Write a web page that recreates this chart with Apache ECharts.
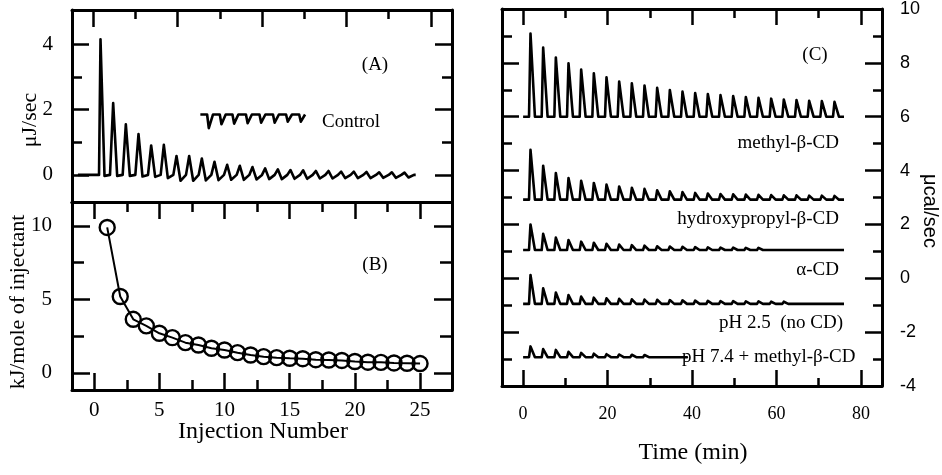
<!DOCTYPE html>
<html>
<head>
<meta charset="utf-8">
<script src="https://cdn.jsdelivr.net/npm/echarts@6/dist/echarts.min.js"></script>
<style>
  html, body { margin: 0; padding: 0; background: #fff; }
  #chart { width: 942px; height: 475px; }
</style>
</head>
<body>
<div id="chart"></div>
<script>
// injection schedule (min), shared by panels A and C
const injectionTimes = [1.4, 4.4, 7.4, 10.4, 13.4, 16.4, 19.4, 22.4, 25.4, 28.4, 31.4, 34.4, 37.4,
  40.4, 43.4, 46.4, 49.4, 52.4, 55.4, 58.4, 61.4, 64.4, 67.4, 70.4, 73.4]

// panel A: raw heat signal (uJ/sec)
const aPeaks = [4.15, 2.2, 1.55, 1.25, 0.9, 0.92, 0.58, 0.58, 0.5, 0.4, 0.31, 0.28, 0.24,
  0.2, 0.17, 0.15, 0.14, 0.12, 0.12, 0.1, 0.1, 0.09, 0.08, 0.08, 0.07]
const aDips = [-0.03, -0.03, -0.03, -0.05, -0.06, -0.1, -0.18, -0.18, -0.17, -0.16, -0.15, -0.15, -0.14,
  -0.13, -0.13, -0.12, -0.12, -0.11, -0.11, -0.1, -0.1, -0.1, -0.09, -0.09, -0.08]
const controlTimes = [27, 30, 33, 36.2, 39.4, 42.6, 45.7, 48.8]
const controlDips = [0.42, 0.3, 0.28, 0.27, 0.25, 0.25, 0.22, 0.22]
const controlBase = 1.85

// panel B: integrated heats (kJ/mole of injectant)
const injectionNumber = [1, 2, 3, 4, 5, 6, 7, 8, 9, 10, 11, 12, 13, 14, 15, 16, 17, 18, 19, 20, 21, 22, 23, 24, 25]
const heatPerInjection = [9.9, 5.2, 3.65, 3.2, 2.7, 2.4, 2.06, 1.9, 1.68, 1.56, 1.38, 1.22, 1.11,
  1.04, 1.0, 0.97, 0.9, 0.88, 0.85, 0.78, 0.73, 0.72, 0.68, 0.66, 0.64]

// panel C: offset thermograms (ucal/sec)
const traceNames = ['methyl-β-CD', 'hydroxypropyl-β-CD', 'α-CD', 'pH 2.5  (no CD)', 'pH 7.4 + methyl-β-CD']
const traceBaselines = [6.0, 2.92, 1.05, -0.95, -2.93]
const traceEnds = [76, 76, 76, 76, 37.6]
const methylPeaks = [3.09, 2.57, 2.2, 1.98, 1.75, 1.61, 1.46, 1.31, 1.24, 1.16, 1.07, 0.99, 0.93,
  0.88, 0.84, 0.8, 0.77, 0.73, 0.7, 0.67, 0.64, 0.62, 0.59, 0.58, 0.55]
const hydroxyPeaks = [1.85, 1.26, 0.99, 0.8, 0.7, 0.62, 0.56, 0.49, 0.44, 0.4, 0.35, 0.31, 0.28,
  0.25, 0.23, 0.21, 0.2, 0.19, 0.18, 0.17, 0.16, 0.16, 0.15, 0.15, 0.14]
const alphaPeaks = [0.95, 0.6, 0.46, 0.37, 0.31, 0.27, 0.23, 0.2, 0.18, 0.16, 0.14, 0.13, 0.12,
  0.11, 0.1, 0.09, 0.09, 0.08, 0.08, 0.07, 0.07, 0.06, 0.06, 0.05, 0.05]
const ph25Peaks = [1.07, 0.58, 0.42, 0.33, 0.27, 0.23, 0.21, 0.19, 0.17, 0.16, 0.15, 0.14, 0.13,
  0.12, 0.11, 0.1, 0.1, 0.09, 0.09, 0.08, 0.08, 0.07, 0.07, 0.06, 0.06]
const ph74Peaks = [0.4, 0.3, 0.27, 0.2, 0.16, 0.13, 0.11, 0.1, 0.09, 0.08, 0.07, 0.06, 0.06]
const cPeaks = [methylPeaks, hydroxyPeaks, alphaPeaks, ph25Peaks, ph74Peaks]

// tick positions
const timeMajor = [0, 20, 40, 60, 80]
const timeMinor = [10, 30, 50, 70]
const aMajor = [0, 2, 4]
const aMinor = [1, 3]
const injMajor = [0, 5, 10, 15, 20, 25]
const injMinor = [2.5, 7.5, 12.5, 17.5, 22.5]
const bMajor = [0, 5, 10]
const bMinor = [2.5, 7.5]
const cMajorTicks = [-2, 0, 2, 4, 6, 8]
const cMinorTicks = [-3, -1, 1, 3, 5, 7, 9]
const cLabels = [-4, -2, 0, 2, 4, 6, 8, 10]

const SERIF = '"Liberation Serif", "Times New Roman", serif'
const SANS = '"Liberation Sans", Arial, sans-serif'

// spike: quick rise, fast decay, optional undershoot
const buildTrace = (times, peaks, base, tStart, tEnd, dips) => {
  const pts = [[tStart, base]]
  peaks.forEach((h, i) => {
    const t = times[i]
    pts.push([t, base], [t + 0.35, base + h])
    if (dips) pts.push([t + 1.3, dips[i]], [t + 2.6, base])
    else pts.push([t + 1.4, base])
  })
  pts.push([tEnd, base])
  return pts
}

const buildControl = (times, dips, base, tStart, tEnd) => {
  const pts = [[tStart, base]]
  dips.forEach((d, i) => {
    pts.push([times[i], base], [times[i] + 0.4, base - d], [times[i] + 1.4, base])
  })
  pts.push([tEnd, base])
  return pts
}

const xAxes = []
const yAxes = []
const add = (list, a) => { list.push(a); return list.length - 1 }

const axis = (gridIndex, position, min, max, ticks, len, o = {}) => ({
  type: 'value', gridIndex, position, min, max,
  splitLine: { show: false },
  axisLine: { show: !!o.line, onZero: false, lineStyle: { color: '#000', width: 3 } },
  axisTick: { show: ticks.length > 0, inside: true, length: len, customValues: ticks,
    lineStyle: { color: '#000', width: 2.5 } },
  axisLabel: o.labels
    ? { show: true, customValues: o.labels, fontFamily: o.font || SERIF, fontSize: o.size || 21,
        color: '#000', margin: o.margin ?? 12 }
    : { show: false },
})

// grid 0: panel A
const aX = add(xAxes, axis(0, 'bottom', -5, 85, [], 0, { line: true }))
add(xAxes, axis(0, 'top', -5, 85, timeMajor, 17, { line: true }))
add(xAxes, axis(0, 'top', -5, 85, timeMinor, 9))
const aY = add(yAxes, axis(0, 'left', -0.83, 5.05, aMajor, 17, { line: true, labels: aMajor, margin: 19 }))
add(yAxes, axis(0, 'left', -0.83, 5.05, aMinor, 10))
add(yAxes, axis(0, 'right', -0.83, 5.05, aMajor, 17, { line: true }))
add(yAxes, axis(0, 'right', -0.83, 5.05, aMinor, 10))

// grid 1: panel B
const bX = add(xAxes, axis(1, 'bottom', -1.7, 27.45, injMajor, 17, { line: true, labels: injMajor, margin: 10 }))
add(xAxes, axis(1, 'bottom', -1.7, 27.45, injMinor, 10))
add(xAxes, axis(1, 'top', -1.7, 27.45, injMajor, 17, { line: true }))
add(xAxes, axis(1, 'top', -1.7, 27.45, injMinor, 10))
const bY = add(yAxes, axis(1, 'left', -1.16, 11.63, bMajor, 18, { line: true, labels: bMajor, margin: 20 }))
add(yAxes, axis(1, 'left', -1.16, 11.63, bMinor, 12))
add(yAxes, axis(1, 'right', -1.16, 11.63, bMajor, 18, { line: true }))
add(yAxes, axis(1, 'right', -1.16, 11.63, bMinor, 12))

// grid 2: panel C
const cX = add(xAxes, axis(2, 'bottom', -5, 85, timeMajor, 16, { line: true, labels: timeMajor, size: 18, margin: 19 }))
add(xAxes, axis(2, 'bottom', -5, 85, timeMinor, 8))
add(xAxes, axis(2, 'top', -5, 85, timeMajor, 16, { line: true }))
add(xAxes, axis(2, 'top', -5, 85, timeMinor, 9))
const cY = add(yAxes, axis(2, 'left', -4, 10, cMajorTicks, 17, { line: true }))
add(yAxes, axis(2, 'left', -4, 10, cMinorTicks, 10))
add(yAxes, axis(2, 'right', -4, 10, cMajorTicks, 17, { line: true, labels: cLabels, font: SANS, size: 18, margin: 18 }))
add(yAxes, axis(2, 'right', -4, 10, cMinorTicks, 9))

const trace = (data, xi, yi) => ({
  type: 'line', data, xAxisIndex: xi, yAxisIndex: yi,
  showSymbol: false, symbol: 'none',
  lineStyle: { color: '#000', width: 2.6, join: 'round' },
})

const series = [
  trace(buildTrace(injectionTimes, aPeaks, 0, -3.6, 76.4, aDips), aX, aY),
  trace(buildControl(controlTimes, controlDips, controlBase, 25.4, 50.2), aX, aY),
  {
    type: 'line', xAxisIndex: bX, yAxisIndex: bY,
    data: injectionNumber.map((n, i) => [n, heatPerInjection[i]]),
    symbol: 'circle', symbolSize: 15, showSymbol: true,
    itemStyle: { color: 'rgba(0,0,0,0)', borderColor: '#000', borderWidth: 2.4 },
    lineStyle: { color: '#000', width: 2 },
  },
  ...cPeaks.map((peaks, k) =>
    trace(buildTrace(injectionTimes, peaks, traceBaselines[k], 0, traceEnds[k]), cX, cY)),
]

const text = (str, x, y, o = {}) => ({
  type: 'text', x, y, rotation: o.rotation || 0, z: 100,
  style: {
    text: str, font: `${o.size || 19}px ${o.font || SERIF}`, fill: '#000',
    textAlign: o.align || 'center', textVerticalAlign: 'middle',
    align: o.align || 'center', verticalAlign: 'middle',
  },
})

const graphic = [
  text('(A)', 375, 65),
  text('Control', 322, 122, { align: 'left' }),
  text('(B)', 375, 265),
  text('(C)', 815, 55),
  text(traceNames[0], 839, 143, { align: 'right' }),
  text(traceNames[1], 839, 219, { align: 'right' }),
  text(traceNames[2], 839, 270, { align: 'right' }),
  text(traceNames[3], 843, 323, { align: 'right' }),
  text(traceNames[4], 682, 357, { align: 'left' }),
  text('Injection Number', 263, 432, { size: 24 }),
  text('Time (min)', 693, 453, { size: 24 }),
  text('μJ/sec', 30, 120, { size: 22, rotation: Math.PI / 2 }),
  text('kJ/mole of injectant', 18, 302, { size: 22, rotation: Math.PI / 2 }),
  text('μcal/sec', 930, 211, { size: 20, font: SANS, rotation: -Math.PI / 2 }),
]

const chart = echarts.init(document.getElementById('chart'))
chart.setOption({
  animation: false,
  backgroundColor: '#fff',
  grid: [
    { left: 72, top: 10, width: 380, height: 192 },
    { left: 72, top: 202, width: 380, height: 188 },
    { left: 502, top: 9, width: 380, height: 377 },
  ],
  xAxis: xAxes,
  yAxis: yAxes,
  series,
  graphic,
})
</script>
</body>
</html>
